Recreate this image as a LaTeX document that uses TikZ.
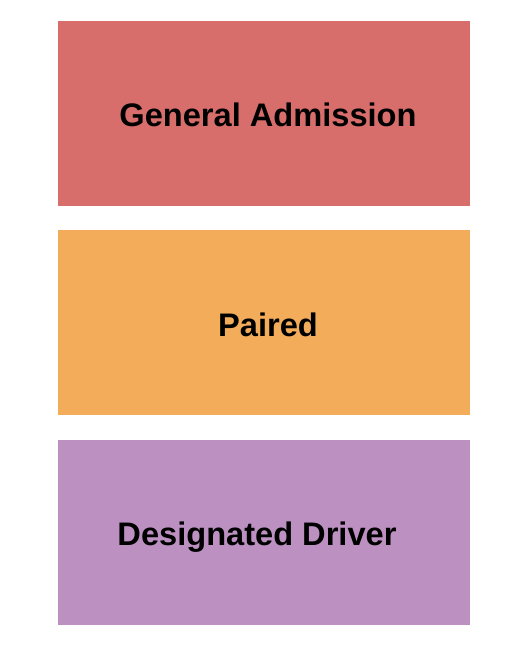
\documentclass[tikz,border=0pt]{standalone}
\usepackage{fontspec}
\setmainfont{Liberation Sans}
\definecolor{gared}{HTML}{D76E6B}
\definecolor{paorange}{HTML}{F2AC5A}
\definecolor{ddpurple}{HTML}{BC91C2}
\begin{document}
\begin{tikzpicture}[x=1pt,y=1pt,
  zone/.style={draw=none,inner sep=0pt,outer sep=0pt,minimum width=412pt,minimum height=185pt},
  lbl/.style={inner sep=0pt,anchor=base,font=\fontsize{32.6}{38}\selectfont\bfseries,text=black}]
\useasboundingbox (0,0) rectangle (525,650);
\fill[white] (0,0) rectangle (525,650);
\node[zone,fill=gared,anchor=north west] (ga) at (58,629) {};
\node[zone,fill=paorange,anchor=north west] (pa) at (58,419.5) {};
\node[zone,fill=ddpurple,anchor=north west] (dd) at (58,210) {};
\node[lbl] (galbl) at (268,523) {General Admission};
\node[lbl] (palbl) at (268,313.5) {Paired};
\node[lbl] (ddlbl) at (257,104.5) {Designated Driver};
\end{tikzpicture}
\end{document}
